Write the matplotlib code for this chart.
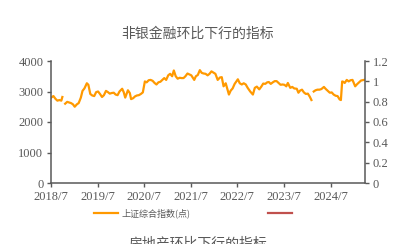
import numpy as np
import pandas as pd
import matplotlib
matplotlib.use("Agg")
import matplotlib.pyplot as plt
import matplotlib.dates as mdates

# ---------------- data ----------------
dates = [
    "2018-07-02", "2018-07-20", "2018-08-05", "2018-08-20", "2018-09-05", "2018-09-20", "2018-09-28",
    "2018-10-10",
    "2018-10-20", "2018-11-05", "2018-11-20", "2018-12-05", "2018-12-20", "2019-01-03", "2019-01-20",
    "2019-02-03", "2019-02-20", "2019-03-05", "2019-03-20", "2019-04-08", "2019-04-20", "2019-05-05",
    "2019-05-20", "2019-06-05", "2019-06-20", "2019-07-05", "2019-07-20", "2019-08-05", "2019-08-20",
    "2019-09-05", "2019-09-20", "2019-10-05", "2019-10-20", "2019-11-05", "2019-11-20", "2019-12-05",
    "2019-12-20", "2020-01-10", "2020-01-22", "2020-02-03", "2020-02-24", "2020-03-10", "2020-03-20",
    "2020-04-05", "2020-04-20", "2020-05-05", "2020-05-20", "2020-06-05", "2020-06-20", "2020-07-06",
    "2020-07-20", "2020-08-05", "2020-08-20", "2020-09-05", "2020-09-20", "2020-10-05", "2020-10-20",
    "2020-11-05", "2020-11-20", "2020-12-05", "2020-12-20", "2021-01-05", "2021-01-20", "2021-02-05",
    "2021-02-18", "2021-03-05", "2021-03-20", "2021-04-05", "2021-04-20", "2021-05-05", "2021-05-20",
    "2021-06-05", "2021-06-20", "2021-07-05", "2021-07-28", "2021-08-10", "2021-08-25", "2021-09-10",
    "2021-09-25", "2021-10-10", "2021-10-25", "2021-11-10", "2021-11-25", "2021-12-10", "2021-12-25",
    "2022-01-10", "2022-01-28", "2022-02-15", "2022-03-01", "2022-03-15", "2022-04-01", "2022-04-26",
    "2022-05-10", "2022-05-25", "2022-06-10", "2022-07-05", "2022-07-20", "2022-08-05", "2022-08-20",
    "2022-09-05", "2022-09-20", "2022-10-10", "2022-10-31", "2022-11-15", "2022-12-01", "2022-12-20",
    "2023-01-05", "2023-01-20", "2023-02-05", "2023-02-20", "2023-03-05", "2023-03-20", "2023-04-05",
    "2023-04-20", "2023-05-05", "2023-05-20", "2023-06-05", "2023-06-20", "2023-07-05", "2023-07-20",
    "2023-08-01", "2023-08-20", "2023-09-05", "2023-09-20", "2023-10-10", "2023-10-23", "2023-11-05",
    "2023-11-20", "2023-12-05", "2023-12-20", "2024-01-05", "2024-01-20", "2024-02-02",
    "2024-02-10",
    "2024-02-20", "2024-03-05", "2024-03-20", "2024-04-05", "2024-04-20", "2024-05-10", "2024-05-25",
    "2024-06-10", "2024-06-25", "2024-07-10", "2024-07-25", "2024-08-10", "2024-08-25", "2024-09-10",
    "2024-09-20", "2024-09-30", "2024-10-08", "2024-10-20", "2024-11-05", "2024-11-20", "2024-12-05",
    "2024-12-20", "2025-01-10", "2025-01-25", "2025-02-10", "2025-02-25", "2025-03-10", "2025-03-20",
]
sse_index = [
    2800, 2850, 2760, 2700, 2720, 2700, 2820,
    np.nan,
    2600, 2660, 2640, 2620, 2580, 2500, 2580,
    2620, 2800, 3020, 3100, 3270, 3220, 2920,
    2870, 2850, 2980, 3000, 2920, 2820, 2880,
    3020, 2980, 2930, 2950, 2960, 2900, 2880,
    3000, 3090, 2980, 2800, 3040, 2950, 2750,
    2780, 2840, 2870, 2880, 2920, 2970, 3330,
    3300, 3370, 3380, 3350, 3280, 3230, 3300,
    3320, 3380, 3440, 3380, 3530, 3580, 3500,
    3690, 3500, 3420, 3450, 3440, 3440, 3500,
    3590, 3560, 3530, 3380, 3500, 3540, 3700,
    3610, 3590, 3580, 3530, 3580, 3660, 3620,
    3580, 3380, 3460, 3470, 3170, 3270, 2900,
    3030, 3100, 3250, 3400, 3270, 3230, 3270,
    3230, 3120, 3000, 2900, 3120, 3160, 3070,
    3160, 3260, 3250, 3300, 3310, 3250, 3300,
    3340, 3340, 3280, 3220, 3230, 3220, 3170,
    3280, 3120, 3150, 3100, 3090, 2960, 3030,
    3060, 2970, 2920, 2930, 2830, 2720,
    np.nan,
    3000, 3040, 3060, 3060, 3080, 3150, 3080,
    3020, 2960, 2970, 2900, 2860, 2850, 2740,
    2720, 3330, 3320, 3280, 3380, 3330, 3370,
    3380, 3170, 3240, 3300, 3360, 3370, 3380,
]
left_ticks = [0, 1000, 2000, 3000, 4000]
right_ticks = [0, 0.2, 0.4, 0.6, 0.8, 1.0, 1.2]
right_tick_labels = ["0", "0.2", "0.4", "0.6", "0.8", "1", "1.2"]
x_tick_dates = ["2018-07-01", "2019-07-01", "2020-07-01", "2021-07-01",
                "2022-07-01", "2023-07-01", "2024-07-01"]
x_tick_labels = ["2018/7", "2019/7", "2020/7", "2021/7", "2022/7", "2023/7", "2024/7"]
series1_label = "上证综合指数(点)"
title_top = "非银金融环比下行的指标"
title_bottom = "房地产环比下行的指标"

# ---------------- style ----------------
GRAY = "#595959"
ORANGE = "#FF9900"
RED = "#C0504D"
SERIF = ["Liberation Serif", "DejaVu Serif"]
CJK = ["Noto Sans CJK SC", "DejaVu Sans"]

fig = plt.figure(figsize=(3.96, 2.44), dpi=100)
ax = fig.add_axes([51 / 396, 1 - 183 / 244, (365 - 51) / 396, (183 - 61) / 244])
ax2 = ax.twinx()

x = pd.to_datetime(dates)
ax.plot(x, sse_index, color=ORANGE, lw=1.6, solid_joinstyle="round", label=series1_label)
ax2.plot([], [], color=RED, lw=1.6, label=" ")

ax.set_xlim(pd.Timestamp("2018-07-01"), pd.Timestamp("2025-03-28"))
ax.set_ylim(0, 4000)
ax2.set_ylim(0, 1.2)

ax.set_yticks(left_ticks)
ax.set_yticklabels([str(v) for v in left_ticks])
ax2.set_yticks(right_ticks)
ax2.set_yticklabels(right_tick_labels)
ax.set_xticks(pd.to_datetime(x_tick_dates))
ax.set_xticklabels(x_tick_labels)

for a in (ax, ax2):
    for s in a.spines.values():
        s.set_color(GRAY)
        s.set_linewidth(1.1)
    a.spines["top"].set_visible(False)
ax.spines["right"].set_visible(False)
ax2.spines["left"].set_visible(False)
ax2.spines["bottom"].set_visible(False)

ax.tick_params(axis="both", direction="out", length=3, width=1.0, color=GRAY,
               labelcolor=GRAY, labelsize=9, pad=2.5)
ax2.tick_params(axis="y", direction="out", length=3, width=1.0, color=GRAY,
                labelcolor=GRAY, labelsize=9, pad=2.5)
for lab in ax.get_xticklabels() + ax.get_yticklabels() + ax2.get_yticklabels():
    lab.set_fontfamily(SERIF)

fig.text(0.5, 1 - 34 / 244, title_top, ha="center", va="center",
         fontsize=10, color=GRAY, family=CJK)
fig.text(0.5, 1 - 243 / 244, title_bottom, ha="center", va="center",
         fontsize=10, color=GRAY, family=CJK)

h1, l1 = ax.get_legend_handles_labels()
h2, l2 = ax2.get_legend_handles_labels()
leg = fig.legend(h1 + h2, l1 + l2, loc="center left",
                 bbox_to_anchor=(94 / 396, 1 - 213 / 244), ncol=2, frameon=False,
                 prop={"family": CJK, "size": 6.5}, handlelength=2.7,
                 handletextpad=0.3, columnspacing=8.6, borderaxespad=0, borderpad=0)
for t in leg.get_texts():
    t.set_color(GRAY)

fig.savefig("out.png", dpi=100)
